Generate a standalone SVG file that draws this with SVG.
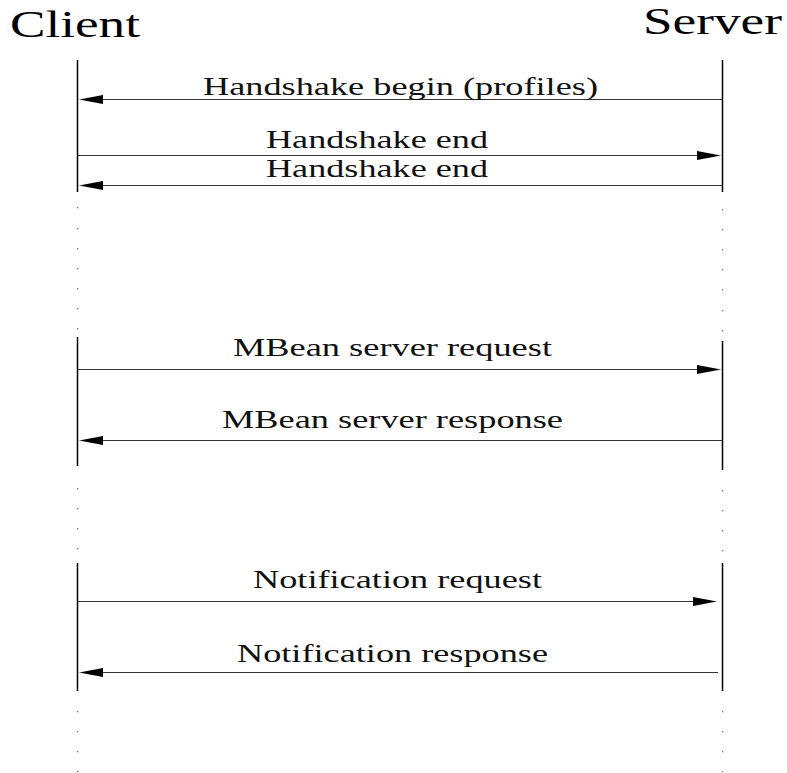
<svg xmlns="http://www.w3.org/2000/svg" width="787" height="773" viewBox="0 0 787 773">
<style>
  .title { font-family: "Liberation Serif", "Times New Roman", serif; font-size: 37px; fill: #000; }
  .lbl { font-family: "Liberation Serif", "Times New Roman", serif; font-size: 26px; fill: #111; text-anchor: start; }
  .life { stroke: #000; stroke-width: 1.5; fill: none; }
  .dot { fill: #777; }
  .msg { stroke: #333; stroke-width: 1.2; fill: none; }
  .head { fill: #000; }
</style>
<rect width="787" height="773" fill="#fff"/>
<g id="client">
  <text class="title" x="10" y="37" textLength="130" lengthAdjust="spacingAndGlyphs">Client</text>
  <line class="life" x1="77.5" y1="60" x2="77.5" y2="192"/>
  <line class="life" x1="77.5" y1="337" x2="77.5" y2="466"/>
  <line class="life" x1="77.5" y1="563" x2="77.5" y2="691"/>
  <g class="dot">
    <rect x="77" y="207" width="1.3" height="1.3"/><rect x="77" y="228" width="1.3" height="1.3"/>
    <rect x="77" y="248" width="1.3" height="1.3"/><rect x="77" y="268" width="1.3" height="1.3"/>
    <rect x="77" y="288" width="1.3" height="1.3"/><rect x="77" y="308" width="1.3" height="1.3"/>
    <rect x="77" y="328" width="1.3" height="1.3"/>
    <rect x="77" y="488" width="1.3" height="1.3"/><rect x="77" y="508" width="1.3" height="1.3"/>
    <rect x="77" y="528" width="1.3" height="1.3"/><rect x="77" y="548" width="1.3" height="1.3"/>
    <rect x="77" y="711" width="1.3" height="1.3"/><rect x="77" y="731" width="1.3" height="1.3"/>
    <rect x="77" y="751" width="1.3" height="1.3"/><rect x="77" y="771" width="1.3" height="1.3"/>
  </g>
</g>
<g id="server">
  <text class="title" x="643" y="34" textLength="139" lengthAdjust="spacingAndGlyphs">Server</text>
  <line class="life" x1="722.5" y1="60" x2="722.5" y2="192"/>
  <line class="life" x1="722.5" y1="341" x2="722.5" y2="470"/>
  <line class="life" x1="722.5" y1="563" x2="722.5" y2="691"/>
  <g class="dot">
    <rect x="722" y="209" width="1.3" height="1.3"/><rect x="722" y="229" width="1.3" height="1.3"/>
    <rect x="722" y="249" width="1.3" height="1.3"/><rect x="722" y="269" width="1.3" height="1.3"/>
    <rect x="722" y="289" width="1.3" height="1.3"/><rect x="722" y="310" width="1.3" height="1.3"/>
    <rect x="722" y="330" width="1.3" height="1.3"/>
    <rect x="722" y="490" width="1.3" height="1.3"/><rect x="722" y="510" width="1.3" height="1.3"/>
    <rect x="722" y="530" width="1.3" height="1.3"/><rect x="722" y="550" width="1.3" height="1.3"/>
    <rect x="722" y="711" width="1.3" height="1.3"/><rect x="722" y="731" width="1.3" height="1.3"/>
    <rect x="722" y="751" width="1.3" height="1.3"/><rect x="722" y="771" width="1.3" height="1.3"/>
  </g>
</g>
<g id="connectors">
  <g id="m1">
    <line class="msg" x1="722" y1="99.5" x2="100" y2="99.5"/>
    <polygon class="head" points="79,99.5 103,95 103,104"/>
    <text class="lbl" x="203" y="95" textLength="395" lengthAdjust="spacingAndGlyphs">Handshake begin (profiles)</text>
  </g>
  <g id="m2">
    <line class="msg" x1="78" y1="155.5" x2="700" y2="155.5"/>
    <polygon class="head" points="721,155.5 697,151 697,160"/>
    <text class="lbl" x="266" y="148" textLength="222" lengthAdjust="spacingAndGlyphs">Handshake end</text>
  </g>
  <g id="m3">
    <line class="msg" x1="722" y1="185.5" x2="100" y2="185.5"/>
    <polygon class="head" points="79,185.5 103,181 103,190"/>
    <text class="lbl" x="266" y="177" textLength="222" lengthAdjust="spacingAndGlyphs">Handshake end</text>
  </g>
  <g id="m4">
    <line class="msg" x1="78" y1="369.5" x2="700" y2="369.5"/>
    <polygon class="head" points="721,369.5 697,365 697,374"/>
    <text class="lbl" x="233" y="356" textLength="319" lengthAdjust="spacingAndGlyphs">MBean server request</text>
  </g>
  <g id="m5">
    <line class="msg" x1="722" y1="440.5" x2="100" y2="440.5"/>
    <polygon class="head" points="79,440.5 103,436 103,445"/>
    <text class="lbl" x="222" y="428" textLength="341" lengthAdjust="spacingAndGlyphs">MBean server response</text>
  </g>
  <g id="m6">
    <line class="msg" x1="78" y1="601.5" x2="696" y2="601.5"/>
    <polygon class="head" points="717,601.5 693,597 693,606"/>
    <text class="lbl" x="253" y="588" textLength="289" lengthAdjust="spacingAndGlyphs">Notification request</text>
  </g>
  <g id="m7">
    <line class="msg" x1="718" y1="672.5" x2="100" y2="672.5"/>
    <polygon class="head" points="79,672.5 103,668 103,677"/>
    <text class="lbl" x="237" y="662" textLength="311" lengthAdjust="spacingAndGlyphs">Notification response</text>
  </g>
</g>
</svg>
